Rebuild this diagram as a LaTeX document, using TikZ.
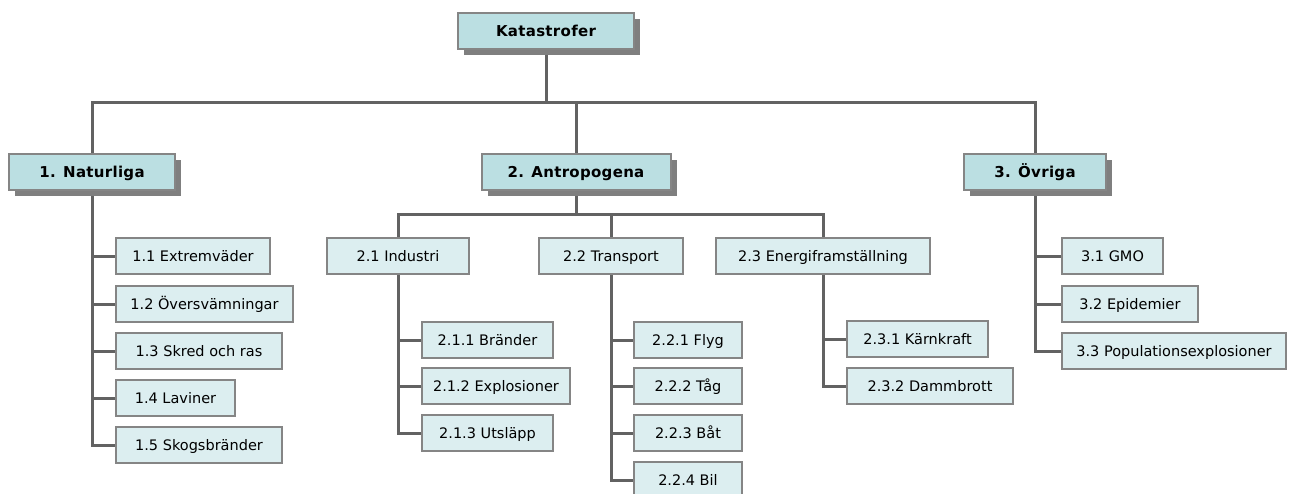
\documentclass[tikz,border=0pt]{standalone}
\usepackage{fontspec}
\setmainfont{DejaVu Sans}
\newfontfamily\boldface[LetterSpace=2]{DejaVu Sans Bold}
\newfontfamily\leafface{DejaVu Sans}
\usetikzlibrary{shadows}
\pgfdeclarelayer{background}
\pgfsetlayers{background,main}
\definecolor{headfill}{HTML}{BBDFE2}
\definecolor{leaffill}{HTML}{DCEEF0}
\definecolor{boxedge}{HTML}{858585}
\definecolor{wire}{HTML}{626262}
\definecolor{shade}{HTML}{7F7F7F}
\tikzset{
  headbox/.style={draw=boxedge, line width=2pt, fill=headfill,
    minimum height=36pt, inner sep=0pt, text height=11pt, text depth=0pt,
    font=\boldface\fontsize{15}{17}\selectfont,
    general shadow={fill=shade, shadow xshift=6pt, shadow yshift=-6pt}},
  leafbox/.style={draw=boxedge, line width=2pt, fill=leaffill,
    minimum height=36pt, inner sep=0pt, text height=11.5pt, text depth=0pt,
    font=\leafface\fontsize{14.5}{17}\selectfont},
  wireline/.style={draw=wire, line width=3pt}
}
\begin{document}
\begin{tikzpicture}[x=1pt,y=-1pt]
\useasboundingbox (0,0) rectangle (1289,493);

% root and main groups
\node[headbox, minimum width=176pt] (k) at (546,30.5) {Katastrofer};
\node[headbox, minimum width=166pt] (n1) at (92,172) {1. Naturliga};
\node[headbox, minimum width=189pt] (n2) at (576,172) {2. Antropogena};
\node[headbox, minimum width=142pt] (n3) at (1035,172) {3. Övriga};

% 1. natural
\node[leafbox, minimum width=154pt, anchor=west] (n11) at (115,256) {1.1 Extremväder};
\node[leafbox, minimum width=177pt, anchor=west] (n12) at (115,304) {1.2 Översvämningar};
\node[leafbox, minimum width=166pt, anchor=west] (n13) at (115,351) {1.3 Skred och ras};
\node[leafbox, minimum width=119pt, anchor=west] (n14) at (115,398) {1.4 Laviner};
\node[leafbox, minimum width=166pt, anchor=west] (n15) at (115,445) {1.5 Skogsbränder};

% 2. anthropogenic
\node[leafbox, minimum width=142pt] (n21) at (398,256) {2.1 Industri};
\node[leafbox, minimum width=144pt] (n22) at (611,256) {2.2 Transport};
\node[leafbox, minimum width=214pt] (n23) at (823,256) {2.3 Energiframställning};

\node[leafbox, minimum width=131pt, anchor=west] (n211) at (421,340) {2.1.1 Bränder};
\node[leafbox, minimum width=148pt, anchor=west] (n212) at (421,386) {2.1.2 Explosioner};
\node[leafbox, minimum width=131pt, anchor=west] (n213) at (421,433) {2.1.3 Utsläpp};

\node[leafbox, minimum width=108pt, anchor=west] (n221) at (633,340) {2.2.1 Flyg};
\node[leafbox, minimum width=108pt, anchor=west] (n222) at (633,386) {2.2.2 Tåg};
\node[leafbox, minimum width=108pt, anchor=west] (n223) at (633,433) {2.2.3 Båt};
\node[leafbox, minimum width=108pt, anchor=west] (n224) at (633,480) {2.2.4 Bil};

\node[leafbox, minimum width=141pt, anchor=west] (n231) at (846,339) {2.3.1 Kärnkraft};
\node[leafbox, minimum width=166pt, anchor=west] (n232) at (846,386) {2.3.2 Dammbrott};

% 3. other
\node[leafbox, minimum width=101pt, anchor=west] (n31) at (1061,256) {3.1 GMO};
\node[leafbox, minimum width=136pt, anchor=west] (n32) at (1061,304) {3.2 Epidemier};
\node[leafbox, minimum width=224pt, anchor=west] (n33) at (1061,351) {3.3 Populationsexplosioner};

\coordinate (hub) at (546,102);
\coordinate (hub2) at (576,214);

\begin{pgfonlayer}{background}
  % root to main groups
  \draw[wireline] (k.south) -- (hub);
  \draw[wireline] (hub) -| (n1.north);
  \draw[wireline] (hub) -| (n2.north);
  \draw[wireline] (hub) -| (n3.north);
  % group 2 to its subgroups
  \draw[wireline] (n2.south) -- (hub2);
  \draw[wireline] (hub2) -| (n21.north);
  \draw[wireline] (hub2) -| (n22.north);
  \draw[wireline] (hub2) -| (n23.north);
  % leaves
  \foreach \p/\c in {n1/n11,n1/n12,n1/n13,n1/n14,n1/n15,
                     n21/n211,n21/n212,n21/n213,
                     n22/n221,n22/n222,n22/n223,n22/n224,
                     n23/n231,n23/n232,
                     n3/n31,n3/n32,n3/n33}
    \draw[wireline] (\p.south) |- (\c.west);
\end{pgfonlayer}
\end{tikzpicture}
\end{document}
